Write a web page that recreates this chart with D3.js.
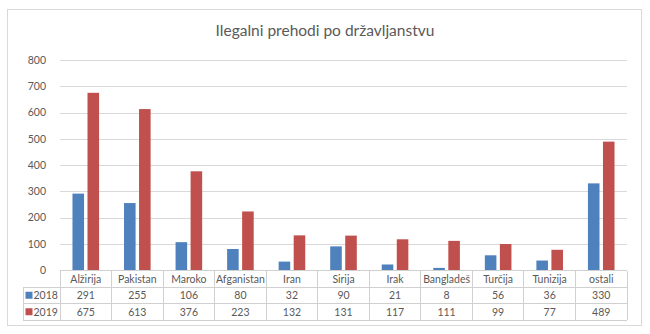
<!DOCTYPE html>
<html>
<head>
<meta charset="utf-8">
<script src="https://cdn.jsdelivr.net/npm/d3@7/dist/d3.min.js"></script>
<style>
  html, body { margin: 0; padding: 0; background: #ffffff; }
  svg { display: block; }
  text { font-family: Lato, "Open Sans", sans-serif; fill: #595959; }
</style>
</head>
<body>
<svg id="chart" width="650" height="334"></svg>
<script>
// Illegal border crossings by citizenship, 2018 vs 2019
const title = "Ilegalni prehodi po državljanstvu";
const categories = ["Alžirija", "Pakistan", "Maroko", "Afganistan", "Iran", "Sirija", "Irak", "Bangladeš", "Turčija", "Tunizija", "ostali"];
const seriesNames = ["2018", "2019"];
const values2018 = [291, 255, 106, 80, 32, 90, 21, 8, 56, 36, 330];
const values2019 = [675, 613, 376, 223, 132, 131, 117, 111, 99, 77, 489];
const yTicks = [0, 100, 200, 300, 400, 500, 600, 700, 800];
const colors = ["#4f81bd", "#c0504d"];

const series = [values2018, values2019];

const svg = d3.select("#chart");

// layout
const frame = { x: 7.5, y: 9.5, w: 634, h: 316 };
const plot = { left: 60, right: 627, top: 60, bottom: 270 };
const rowH = 16.5;
const legendLeft = 23;
const labelSize = "10.5px";

// outer frame
svg.append("rect")
  .attr("x", frame.x).attr("y", frame.y)
  .attr("width", frame.w).attr("height", frame.h)
  .attr("fill", "#ffffff").attr("stroke", "#d9d9d9").attr("stroke-width", 1);

// title
svg.append("text")
  .attr("x", 325).attr("y", 36)
  .attr("text-anchor", "middle")
  .style("font-size", "15.5px")
  .text(title);

const x = d3.scaleBand().domain(categories).range([plot.left, plot.right]).padding(0);
const xs = d3.scaleBand().domain(seriesNames).range([0, x.bandwidth()])
  .paddingInner(0.23).paddingOuter(0.83);
const y = d3.scaleLinear().domain([0, 800]).range([plot.bottom, plot.top]);

// gridlines + y labels via axis
const yAxis = d3.axisLeft(y).tickValues(yTicks)
  .tickSize(-(plot.right - plot.left)).tickPadding(14);
const gy = svg.append("g")
  .attr("transform", `translate(${plot.left},0)`)
  .call(yAxis);
gy.select(".domain").remove();
gy.selectAll(".tick line")
  .attr("stroke", "#d9d9d9").attr("stroke-width", 1)
  .attr("shape-rendering", "crispEdges");
gy.selectAll(".tick text")
  .style("font-size", labelSize).style("fill", "#595959")
  .attr("font-family", null);

// bars
const groups = svg.append("g").selectAll("g")
  .data(categories)
  .join("g")
  .attr("transform", d => `translate(${x(d)},0)`);

groups.selectAll("rect")
  .data((d, i) => seriesNames.map((s, k) => ({ s, k, v: series[k][i] })))
  .join("rect")
  .attr("x", d => xs(d.s))
  .attr("width", xs.bandwidth())
  .attr("y", d => y(d.v))
  .attr("height", d => y(0) - y(d.v))
  .attr("fill", d => colors[d.k]);

// data table
const table = svg.append("g");
const lineColor = "#d0d0d0";
const tTop = plot.bottom + 0.5;
const r1 = tTop + rowH, r2 = r1 + rowH, r3 = r2 + rowH;

const hline = (x1, x2, yy) => table.append("line")
  .attr("x1", x1).attr("x2", x2).attr("y1", yy).attr("y2", yy)
  .attr("stroke", lineColor).attr("shape-rendering", "crispEdges");
const vline = (xx, y1, y2) => table.append("line")
  .attr("x1", xx).attr("x2", xx).attr("y1", y1).attr("y2", y2)
  .attr("stroke", lineColor).attr("shape-rendering", "crispEdges");

hline(plot.left, plot.right, tTop);
hline(legendLeft, plot.right, r1);
hline(legendLeft, plot.right, r2);
hline(legendLeft, plot.right, r3);
vline(legendLeft, r1, r3);
categories.forEach(c => vline(x(c), tTop, r3));
vline(plot.right, tTop, r3);

// category header
table.selectAll("text.cat")
  .data(categories)
  .join("text")
  .attr("class", "cat")
  .attr("x", d => x(d) + x.bandwidth() / 2)
  .attr("y", tTop + rowH / 2 + 4)
  .attr("text-anchor", "middle")
  .style("font-size", labelSize)
  .text(d => d);

// value rows
seriesNames.forEach((s, k) => {
  const rowTop = r1 + k * rowH;
  table.append("rect")
    .attr("x", legendLeft + 2.5).attr("y", rowTop + rowH / 2 - 3.5)
    .attr("width", 7).attr("height", 7)
    .attr("fill", colors[k]);
  table.append("text")
    .attr("x", legendLeft + 10.5).attr("y", rowTop + rowH / 2 + 4)
    .style("font-size", labelSize)
    .text(s);
  table.selectAll(`text.v${k}`)
    .data(series[k])
    .join("text")
    .attr("class", `v${k}`)
    .attr("x", (d, i) => x(categories[i]) + x.bandwidth() / 2)
    .attr("y", rowTop + rowH / 2 + 4)
    .attr("text-anchor", "middle")
    .style("font-size", labelSize)
    .text(d => d);
});
</script>
</body>
</html>
